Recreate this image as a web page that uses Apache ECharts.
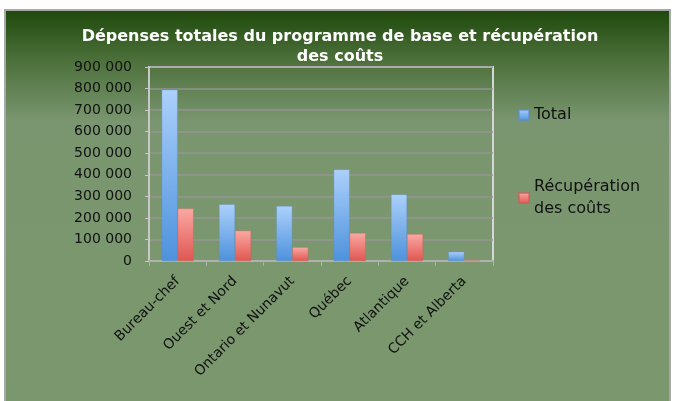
<!DOCTYPE html>
<html>
<head>
<meta charset="utf-8">
<script src="https://cdn.jsdelivr.net/npm/echarts@6/dist/echarts.min.js"></script>
<style>
  html, body { margin: 0; padding: 0; background: #fff; }
  #main { width: 674px; height: 401px; }
</style>
</head>
<body>
<div id="main"></div>
<script>
var categories = ['Bureau-chef', 'Ouest et Nord', 'Ontario et Nunavut', 'Québec', 'Atlantique', 'CCH et Alberta'];
var totalValues = [795000, 263000, 255000, 425000, 309000, 43000];
var recupValues = [243000, 141000, 64000, 130000, 125000, 2000];
var yTicks = [0, 100000, 200000, 300000, 400000, 500000, 600000, 700000, 800000, 900000];

var font = 'DejaVu Sans';
var chart = echarts.init(document.getElementById('main'));

function fmt(v) {
    return String(v).replace(/\B(?=(\d{3})+(?!\d))/g, ' ');
}

var option = {
    animation: false,
    graphic: [{
        type: 'rect',
        z: -10,
        shape: { x: 5, y: 10, width: 665, height: 400 },
        style: {
            fill: new echarts.graphic.LinearGradient(0, 0, 0, 1, [
                { offset: 0, color: '#1d480b' },
                { offset: 0.12, color: '#4a6e38' },
                { offset: 0.28, color: '#7a9670' },
                { offset: 1, color: '#7a986d' }
            ]),
            stroke: '#a8a8a8',
            lineWidth: 2
        }
    }],
    title: {
        text: 'Dépenses totales du programme de base et récupération\ndes coûts',
        left: 340,
        textAlign: 'center',
        top: 27,
        padding: 0,
        textStyle: { fontFamily: font, fontWeight: 'bold', fontSize: 16, color: '#ffffff', lineHeight: 20 }
    },
    legend: [{
        data: ['Total'],
        orient: 'vertical',
        left: 518,
        top: 107,
        padding: 0,
        icon: 'rect',
        itemWidth: 10,
        itemHeight: 10,
        textStyle: { fontFamily: font, fontSize: 16, color: '#111' }
    }, {
        data: ['Récupération des coûts'],
        orient: 'vertical',
        left: 518,
        top: 165,
        padding: 0,
        icon: 'rect',
        itemWidth: 10,
        itemHeight: 10,
        formatter: function () { return 'Récupération\ndes coûts'; },
        textStyle: { fontFamily: font, fontSize: 16, color: '#111', lineHeight: 22, padding: [22, 0, 0, 0] }
    }],
    grid: {
        left: 149,
        top: 67,
        right: 181,
        bottom: 140,
        show: true,
        borderColor: '#d6d6d6',
        borderWidth: 2
    },
    xAxis: {
        type: 'category',
        data: categories,
        axisLine: { lineStyle: { color: '#b0b0b0', width: 2 } },
        axisTick: { show: true, length: 5, lineStyle: { color: '#b0b0b0' } },
        axisLabel: {
            rotate: 45,
            margin: 18,
            interval: 0,
            fontFamily: font,
            fontSize: 14,
            color: '#111'
        }
    },
    yAxis: {
        type: 'value',
        min: 0,
        max: 900000,
        interval: 100000,
        axisLine: { show: true, lineStyle: { color: '#c8c8c8', width: 2 } },
        axisTick: { show: true, length: 4, lineStyle: { color: '#c8c8c8' } },
        splitLine: { lineStyle: { color: 'rgba(150,150,150,0.9)', width: 1.5 } },
        axisLabel: {
            margin: 17,
            fontFamily: font,
            fontSize: 14,
            color: '#111',
            formatter: function (v) { return yTicks.indexOf(v) >= 0 ? fmt(v) : ''; }
        }
    },
    series: [{
        name: 'Total',
        type: 'bar',
        data: totalValues,
        barWidth: 16,
        barGap: '0%',
        itemStyle: {
            color: new echarts.graphic.LinearGradient(0, 0, 0, 1, [
                { offset: 0, color: '#acd0fb' },
                { offset: 1, color: '#4d92dc' }
            ]),
            borderColor: 'rgba(90,140,210,0.6)',
            borderWidth: 0.5
        }
    }, {
        name: 'Récupération des coûts',
        type: 'bar',
        data: recupValues,
        barWidth: 16,
        barGap: '0%',
        itemStyle: {
            color: new echarts.graphic.LinearGradient(0, 0, 0, 1, [
                { offset: 0, color: '#fba8a3' },
                { offset: 1, color: '#df5751' }
            ]),
            borderColor: 'rgba(210,90,85,0.6)',
            borderWidth: 0.5
        }
    }]
};

chart.setOption(option);
</script>
</body>
</html>
